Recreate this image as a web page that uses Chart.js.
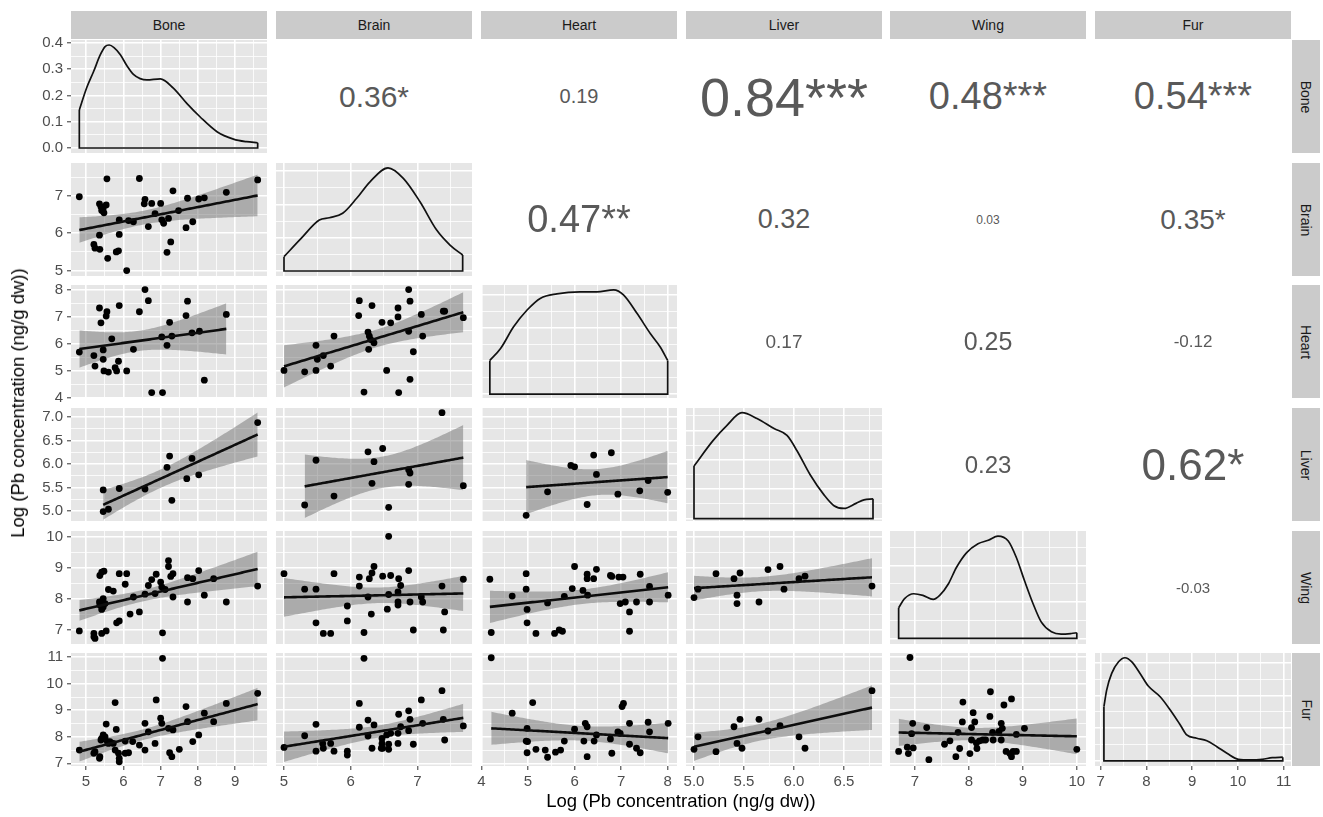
<!DOCTYPE html>
<html>
<head>
<meta charset="utf-8">
<script src="https://cdn.jsdelivr.net/npm/chart.js@4.4.1/dist/chart.umd.min.js"></script>
<style>
  body { margin: 0; background: #fff; width: 1323px; height: 817px; position: relative; overflow: hidden;
         font-family: "Liberation Sans", Arial, sans-serif; }
  canvas { position: absolute; }
  .strip { position: absolute; background: #cbcbcb; color: #1a1a1a; font-size: 14px;
           display: flex; align-items: center; justify-content: center; }
  .strip.side span { transform: rotate(90deg); white-space: nowrap; }
  .corr { position: absolute; display: flex; align-items: center; justify-content: center;
          color: #595959; white-space: nowrap; }
  .title { position: absolute; font-size: 18.5px; color: #000; white-space: nowrap; }
</style>
</head>
<body>
<script>
// tissues in panel order
const tissues = ['Bone', 'Brain', 'Heart', 'Liver', 'Wing', 'Fur'];

// tick labels per variable
const boneTicks = ['5', '6', '7', '8', '9'];
const brainTicks = ['5', '6', '7'];
const heartTicks = ['4', '5', '6', '7', '8'];
const liverTicks = ['5.0', '5.5', '6.0', '6.5', '7.0'];
const wingTicks = ['7', '8', '9', '10'];
const furTicks = ['7', '8', '9', '10', '11'];
const boneDensTicks = ['0.0', '0.1', '0.2', '0.3', '0.4'];
const brainDensTicks = ['0.0', '0.2', '0.4', '0.6'];
const heartDensTicks = ['0.0', '0.1', '0.2', '0.3'];
const liverDensTicks = ['0.00', '0.25', '0.50', '0.75'];
const wingDensTicks = ['0.0', '0.2', '0.4'];
const furDensTicks = ['0.0', '0.2', '0.4', '0.6'];

// axis limits
const xLimits = [[4.597, 9.85], [4.88, 7.82], [3.99, 8.2], [4.92, 6.88], [6.54, 10.17], [6.875, 11.16]];
const yLimits = [null, [4.855, 7.885], [3.99, 8.17], [4.79, 7.19], [6.55, 10.18], [6.9, 11.16]];
const densLimits = [[-0.019, 0.411], [-0.03, 0.649], [-0.012, 0.331], [-0.02, 0.94], [-0.031, 0.592], [-0.031, 0.661]];

// scatter panels: [x, y]
const brainVsBone = [[4.82,6.98],[5.56,7.46],[6.43,7.47],[5.36,6.79],[5.40,6.71],[5.46,6.67],[5.54,6.76],[5.42,6.61],[5.48,6.55],[5.89,6.36],[6.14,6.34],[6.27,6.31],[6.58,6.91],[6.56,6.79],[6.76,6.80],[7.00,6.80],[6.85,6.53],[6.67,6.18],[7.03,6.36],[7.08,6.27],[7.21,6.40],[7.33,7.14],[7.27,5.77],[7.17,5.49],[7.48,6.61],[7.72,6.94],[7.68,6.15],[7.86,6.31],[8.02,6.92],[8.17,6.95],[8.76,7.10],[9.60,7.43],[5.36,5.95],[5.21,5.70],[5.24,5.60],[5.37,5.57],[5.58,5.33],[5.81,5.50],[5.87,5.53],[5.89,5.97],[6.09,5.00]];
const heartVsBone = [[4.82,5.69],[5.21,5.56],[5.24,5.17],[5.36,7.32],[5.40,6.77],[5.46,5.42],[5.48,4.99],[5.54,7.02],[5.56,7.18],[5.60,4.95],[5.69,6.18],[5.87,5.35],[5.89,7.41],[5.78,5.11],[5.82,4.99],[6.09,4.99],[6.27,5.79],[6.43,7.18],[6.58,8.00],[6.67,7.59],[6.76,4.19],[7.05,4.19],[7.03,6.25],[7.17,5.94],[7.24,6.79],[7.30,6.28],[7.68,7.04],[7.72,7.57],[7.84,6.40],[8.04,6.46],[8.17,4.65],[8.76,7.08],[5.46,5.77]];
const liverVsBone = [[5.46,5.45],[5.46,4.99],[5.60,5.04],[5.89,5.48],[6.58,5.47],[7.17,5.93],[7.24,6.17],[7.30,5.23],[7.70,5.69],[7.84,6.12],[8.02,5.77],[9.60,6.88]];
const wingVsBone = [[4.82,6.97],[5.21,6.89],[5.24,6.73],[5.21,6.78],[5.42,6.89],[5.54,6.97],[5.37,8.75],[5.42,8.86],[5.48,8.89],[5.36,7.90],[5.37,7.80],[5.42,7.66],[5.46,8.01],[5.46,7.74],[5.51,7.85],[5.60,8.30],[5.73,8.25],[5.82,7.23],[5.89,7.29],[5.89,8.81],[6.05,8.47],[6.09,8.81],[6.18,7.51],[6.27,8.06],[6.43,7.58],[6.58,8.15],[6.67,8.43],[6.76,8.62],[6.85,8.17],[6.88,8.79],[7.00,8.54],[7.03,8.38],[7.05,6.91],[7.12,8.30],[7.21,9.23],[7.21,9.04],[7.27,8.72],[7.33,8.81],[7.33,8.06],[7.72,8.68],[7.72,7.90],[7.86,8.65],[8.02,8.91],[8.17,8.12],[8.42,8.65],[8.76,7.90],[9.60,8.41]];
const furVsBone = [[4.82,7.50],[5.21,7.38],[5.24,7.44],[5.36,7.19],[5.37,7.25],[5.40,7.88],[5.42,7.94],[5.46,8.07],[5.51,8.00],[5.54,8.48],[5.57,7.82],[5.60,7.75],[5.64,7.82],[5.73,7.75],[5.78,9.29],[5.81,8.28],[5.78,7.50],[5.87,7.38],[5.89,7.19],[5.89,7.06],[6.05,7.84],[6.05,7.38],[6.14,7.40],[6.25,7.82],[6.43,7.69],[6.58,8.51],[6.58,7.50],[6.67,8.19],[6.85,7.75],[6.88,9.39],[7.00,8.70],[7.03,8.51],[7.05,10.96],[7.21,8.32],[7.24,7.40],[7.30,7.25],[7.33,8.26],[7.50,7.53],[7.68,9.14],[7.72,8.57],[7.86,7.82],[8.02,8.07],[8.17,8.89],[8.42,8.57],[8.76,9.26],[9.60,9.64]];
const heartVsBrain = [[5.00,5.01],[5.31,4.96],[5.48,5.01],[5.48,5.94],[5.50,5.42],[5.59,5.56],[5.70,5.17],[5.75,6.28],[6.13,7.59],[6.32,7.41],[6.12,7.04],[6.20,4.21],[6.26,6.43],[6.28,6.28],[6.30,6.15],[6.35,6.03],[6.27,5.79],[6.47,6.79],[6.54,5.01],[6.60,6.77],[6.71,7.32],[6.71,6.99],[6.72,4.19],[6.87,8.00],[6.89,7.57],[6.87,6.46],[6.89,4.68],[6.94,5.70],[7.06,7.08],[7.08,6.28],[7.39,7.20],[7.41,7.20],[7.69,6.96]];
const liverVsBrain = [[7.37,7.09],[5.31,5.13],[5.48,6.08],[5.75,5.32],[6.26,6.26],[6.35,6.05],[6.32,5.59],[6.48,6.33],[6.57,5.08],[6.87,5.57],[6.89,5.81],[6.87,5.88],[7.69,5.54]];
const wingVsBrain = [[5.00,8.81],[5.31,8.31],[5.48,8.31],[5.75,8.81],[5.48,7.23],[5.59,6.89],[5.70,6.89],[5.95,7.77],[5.95,7.29],[6.13,8.70],[6.13,8.41],[6.20,6.92],[6.26,8.06],[6.28,8.65],[6.32,8.83],[6.35,9.04],[6.31,7.51],[6.48,8.73],[6.55,7.67],[6.57,8.14],[6.60,8.75],[6.71,8.22],[6.72,8.65],[6.75,8.43],[6.71,7.90],[6.71,7.80],[6.87,8.91],[6.89,7.90],[6.94,7.00],[7.06,8.06],[7.08,7.90],[7.37,8.41],[7.41,7.58],[7.39,7.00],[7.69,8.63],[6.57,10.01]];
const furVsBrain = [[6.20,10.96],[5.00,7.60],[5.31,8.04],[5.48,8.47],[5.48,7.46],[5.59,7.57],[5.58,7.75],[5.70,7.75],[5.75,7.46],[5.95,7.46],[5.95,7.31],[6.13,9.26],[6.13,8.36],[6.26,8.63],[6.35,8.45],[6.26,8.03],[6.32,7.57],[6.47,7.94],[6.48,7.57],[6.54,8.07],[6.57,7.72],[6.57,7.53],[6.60,8.13],[6.71,7.75],[6.72,8.85],[6.75,8.38],[6.87,8.23],[6.87,8.98],[6.89,8.66],[6.94,7.72],[7.06,9.39],[7.08,8.51],[7.37,9.74],[7.39,8.66],[7.41,7.88],[7.69,8.41],[6.46,7.57],[6.47,7.75],[6.71,8.13]];
const liverVsHeart = [[4.96,4.91],[5.42,5.41],[5.92,5.97],[6.00,5.94],[6.27,5.14],[6.41,6.19],[6.47,5.78],[6.79,6.24],[6.93,5.36],[7.40,5.43],[7.58,5.65],[8.00,5.40]];
const wingVsHeart = [[4.18,8.63],[4.21,6.92],[4.66,8.09],[4.96,8.81],[4.96,8.31],[4.98,7.66],[4.98,7.23],[5.17,6.89],[5.42,7.87],[5.57,6.89],[5.67,7.00],[5.74,6.96],[5.78,8.08],[5.95,8.33],[6.00,9.04],[6.18,8.27],[6.27,8.79],[6.27,8.65],[6.28,8.12],[6.41,8.65],[6.47,8.95],[6.77,8.75],[6.80,8.72],[6.95,8.70],[6.98,7.85],[7.04,8.70],[7.09,7.90],[7.18,7.58],[7.18,6.96],[7.33,7.90],[7.41,8.79],[7.61,7.90],[7.61,8.40],[8.01,8.12]];
const furVsHeart = [[4.21,10.98],[4.66,8.89],[5.10,9.29],[4.98,8.32],[4.96,7.84],[4.99,7.82],[4.98,7.40],[5.17,7.53],[5.37,7.50],[5.42,7.23],[5.59,7.42],[5.70,7.50],[5.78,7.84],[6.00,8.29],[6.20,7.84],[6.23,8.51],[6.27,8.38],[6.27,7.25],[6.42,7.84],[6.47,8.07],[6.77,7.92],[6.80,7.38],[6.93,8.19],[6.98,8.13],[7.02,9.14],[7.05,9.26],[7.18,8.51],[7.18,7.72],[7.33,7.57],[7.41,7.40],[7.58,8.55],[7.61,8.19],[8.01,8.51]];
const wingVsLiver = [[5.00,8.04],[5.04,8.31],[5.22,8.81],[5.40,8.65],[5.43,8.12],[5.43,7.85],[5.46,8.83],[5.65,7.90],[5.74,8.94],[5.86,9.04],[5.90,8.31],[6.05,8.65],[6.11,8.73],[6.78,8.41]];
const furVsLiver = [[5.00,7.53],[5.04,8.00],[5.22,7.44],[5.40,8.38],[5.43,7.75],[5.46,8.66],[5.48,7.57],[5.65,8.66],[5.74,8.22],[5.86,8.42],[6.05,8.00],[6.11,7.57],[6.78,9.74]];
const furVsWing = [[6.91,10.99],[6.96,8.51],[6.94,8.12],[7.22,8.35],[6.70,7.45],[6.86,7.61],[6.88,7.37],[6.97,7.58],[7.26,7.14],[7.55,7.72],[7.65,7.85],[7.80,8.17],[7.88,8.56],[7.89,9.31],[7.83,7.56],[7.76,7.25],[8.02,7.37],[8.05,8.35],[8.08,8.91],[8.11,8.56],[8.14,7.77],[8.15,7.56],[8.05,7.88],[8.20,7.85],[8.26,7.88],[8.31,7.88],[8.39,8.77],[8.40,9.70],[8.45,7.88],[8.44,8.17],[8.56,8.20],[8.60,8.51],[8.60,7.88],[8.62,8.32],[8.65,9.20],[8.69,7.45],[8.76,7.37],[8.79,9.43],[8.79,7.25],[8.82,7.45],[8.88,7.45],[8.88,8.09],[9.03,8.32],[10.00,7.53]];

// density curves on the diagonal
const boneDensX = [4.82,5.02,5.2,5.38,5.51,5.62,5.75,5.92,6.1,6.27,6.45,6.63,6.99,7.34,7.7,8.06,8.51,8.95,9.3,9.6];
const boneDensY = [0.145,0.23,0.29,0.354,0.386,0.392,0.382,0.355,0.312,0.28,0.264,0.259,0.263,0.228,0.17,0.118,0.062,0.034,0.024,0.02];
const brainDensX = [5.0,5.25,5.53,5.68,5.88,6.09,6.29,6.56,6.79,7.04,7.29,7.49,7.68];
const brainDensY = [0.086,0.193,0.306,0.32,0.347,0.437,0.536,0.62,0.557,0.416,0.246,0.156,0.096];
const heartDensX = [4.18,4.41,4.69,4.98,5.27,5.62,6.12,6.48,6.84,7.05,7.34,7.63,7.84,8.0];
const heartDensY = [0.102,0.138,0.204,0.255,0.291,0.304,0.31,0.31,0.316,0.301,0.245,0.183,0.143,0.102];
const liverDensX = [5.0,5.19,5.33,5.48,5.63,5.8,5.93,6.03,6.16,6.3,6.4,6.5,6.62,6.7,6.79];
const liverDensY = [0.447,0.663,0.793,0.9,0.851,0.765,0.707,0.577,0.375,0.202,0.11,0.087,0.13,0.159,0.168];
const wingDensX = [6.7,6.81,6.98,7.15,7.34,7.46,7.62,7.77,7.96,8.17,8.36,8.54,8.73,8.88,9.03,9.19,9.34,9.53,9.71,9.9,10.0];
const wingDensY = [0.169,0.219,0.246,0.237,0.215,0.237,0.3,0.391,0.473,0.522,0.541,0.564,0.537,0.446,0.319,0.191,0.091,0.036,0.023,0.027,0.031];
const furDensX = [7.07,7.13,7.24,7.39,7.53,7.68,7.86,8.04,8.3,8.52,8.74,8.88,9.1,9.32,9.54,9.76,10.01,10.27,10.53,10.75,10.98];
const furDensY = [0.332,0.434,0.536,0.607,0.632,0.607,0.536,0.459,0.393,0.312,0.22,0.159,0.139,0.124,0.087,0.047,0.01,0.006,0.01,0.02,0.023];

// correlations, upper triangle row by row
const corrText = ['0.36*', '0.19', '0.84***', '0.48***', '0.54***', '0.47**', '0.32', '0.03', '0.35*', '0.17', '0.25', '-0.12', '0.23', '0.62*', '-0.03'];
const corrFont = [30, 20, 54, 38, 38, 38, 27, 12, 28, 19, 25, 17, 24, 44, 15];

const FONT = '"Liberation Sans", Arial, sans-serif';
const colLeft = [71, 276, 481, 686, 890, 1095];
const rowTop = [40, 163, 285, 408, 531, 653];
const W = 196, H = 113, M = 8, YW = 46, XH = 24;
const BAND = 'rgba(100,100,100,0.45)';

const varTicks = [boneTicks, brainTicks, heartTicks, liverTicks, wingTicks, furTicks];
const densTicks = [boneDensTicks, brainDensTicks, heartDensTicks, liverDensTicks, wingDensTicks, furDensTicks];
const densX = [boneDensX, brainDensX, heartDensX, liverDensX, wingDensX, furDensX];
const densY = [boneDensY, brainDensY, heartDensY, liverDensY, wingDensY, furDensY];
const scatter = {
  '1,0': brainVsBone, '2,0': heartVsBone, '3,0': liverVsBone, '4,0': wingVsBone, '5,0': furVsBone,
  '2,1': heartVsBrain, '3,1': liverVsBrain, '4,1': wingVsBrain, '5,1': furVsBrain,
  '3,2': liverVsHeart, '4,2': wingVsHeart, '5,2': furVsHeart,
  '4,3': wingVsLiver, '5,3': furVsLiver, '5,4': furVsWing
};

function isMajor(v, labels) {
  return labels.some(l => Math.abs(Number(l) - v) < 1e-6);
}

function tickList(labels, lo, hi) {
  const maj = labels.map(Number);
  const half = (maj[1] - maj[0]) / 2;
  const out = [];
  for (let v = maj[0] - half; v <= maj[maj.length - 1] + half + 1e-9; v += half) {
    if (v >= lo - 1e-9 && v <= hi + 1e-9) out.push({ value: +v.toFixed(4) });
  }
  return out;
}

// lm fit with 95% band, like geom_smooth(method = "lm")
function tQuant(df) {
  const z = 1.959964;
  return z + (z ** 3 + z) / (4 * df) + (5 * z ** 5 + 16 * z ** 3 + 3 * z) / (96 * df * df);
}

function lmBand(pts) {
  const n = pts.length;
  const mx = pts.reduce((s, p) => s + p[0], 0) / n;
  const my = pts.reduce((s, p) => s + p[1], 0) / n;
  let sxx = 0, sxy = 0;
  pts.forEach(p => { sxx += (p[0] - mx) ** 2; sxy += (p[0] - mx) * (p[1] - my); });
  const b = sxy / sxx, a = my - b * mx;
  let sse = 0;
  pts.forEach(p => { sse += (p[1] - a - b * p[0]) ** 2; });
  const s2 = sse / (n - 2), t = tQuant(n - 2);
  const xs = pts.map(p => p[0]);
  const lo = Math.min(...xs), hi = Math.max(...xs);
  const mid = [], up = [], dn = [];
  for (let i = 0; i < 80; i++) {
    const x = lo + (hi - lo) * i / 79;
    const yh = a + b * x;
    const se = Math.sqrt(s2 * (1 / n + (x - mx) ** 2 / sxx));
    mid.push({ x, y: yh });
    up.push({ x, y: yh + t * se });
    dn.push({ x, y: yh - t * se });
  }
  return { mid, up, dn };
}

const panelBg = {
  id: 'panelBg',
  beforeDraw(chart) {
    const a = chart.chartArea, ctx = chart.ctx;
    ctx.save();
    ctx.fillStyle = '#e6e6e6';
    ctx.fillRect(a.left, a.top, a.right - a.left, a.bottom - a.top);
    ctx.restore();
  }
};

function axisCfg(axis, range, labels, shown) {
  return {
    type: 'linear',
    position: axis === 'x' ? 'bottom' : 'left',
    min: range[0],
    max: range[1],
    afterBuildTicks: s => { s.ticks = tickList(labels, range[0], range[1]); },
    afterFit: s => {
      if (axis === 'x') { s.height = shown ? XH : 0; s.paddingLeft = 0; s.paddingRight = 0; }
      else { s.width = shown ? YW : 0; s.paddingTop = 0; s.paddingBottom = 0; }
    },
    border: { display: false },
    grid: {
      color: '#ffffff',
      lineWidth: c => (c.tick && isMajor(c.tick.value, labels)) ? 1.6 : 0.8,
      drawTicks: shown,
      tickLength: 4,
      tickWidth: 1,
      tickColor: c => (c.tick && isMajor(c.tick.value, labels)) ? '#333333' : 'rgba(0,0,0,0)'
    },
    ticks: {
      display: shown,
      autoSkip: false,
      maxRotation: 0,
      padding: axis === 'x' ? 3 : 4,
      color: '#4d4d4d',
      font: { family: FONT, size: 15 },
      callback: v => {
        const l = labels.find(s => Math.abs(Number(s) - v) < 1e-6);
        return l === undefined ? '' : l;
      }
    }
  };
}

function addPanel(r, c, datasets, yRange, yLabels) {
  const left = c === 0, bottom = r === 5;
  const w = W + 2 * M + (left ? YW : 0);
  const h = H + 2 * M + (bottom ? XH : 0);
  const cv = document.createElement('canvas');
  cv.width = w; cv.height = h;
  cv.style.left = (colLeft[c] - M - (left ? YW : 0)) + 'px';
  cv.style.top = (rowTop[r] - M) + 'px';
  cv.style.width = w + 'px'; cv.style.height = h + 'px';
  document.body.appendChild(cv);
  new Chart(cv, {
    type: 'line',
    data: { datasets },
    options: {
      responsive: false,
      animation: false,
      devicePixelRatio: 1,
      layout: { padding: M, autoPadding: false },
      plugins: { legend: { display: false }, tooltip: { enabled: false } },
      scales: {
        x: axisCfg('x', xLimits[c], varTicks[c], bottom),
        y: axisCfg('y', yRange, yLabels, left)
      }
    },
    plugins: [panelBg]
  });
}

function addDiv(cls, x, y, w, h, html, extra) {
  const d = document.createElement('div');
  d.className = cls;
  Object.assign(d.style, { left: x + 'px', top: y + 'px', width: w + 'px', height: h + 'px' }, extra || {});
  d.innerHTML = html;
  document.body.appendChild(d);
  return d;
}

// strips
tissues.forEach((t, i) => {
  addDiv('strip', colLeft[i], 11, W, 28, t);
  addDiv('strip side', 1292, rowTop[i], 28, H, '<span>' + t + '</span>');
});

// panels
let k = 0;
for (let r = 0; r < 6; r++) {
  for (let c = 0; c < 6; c++) {
    if (r === c) {
      const xs = densX[r], ys = densY[r], n = xs.length;
      addPanel(r, c, [
        { data: xs.map((x, i) => ({ x, y: ys[i] })), borderColor: '#111', borderWidth: 1.7,
          pointRadius: 0, cubicInterpolationMode: 'monotone', fill: false },
        { data: [{ x: xs[0], y: ys[0] }, { x: xs[0], y: 0 }, { x: xs[n - 1], y: 0 }, { x: xs[n - 1], y: ys[n - 1] }],
          borderColor: '#111', borderWidth: 1.7, pointRadius: 0, tension: 0, fill: false }
      ], densLimits[r], densTicks[r]);
    } else if (r > c) {
      const pts = scatter[r + ',' + c];
      const fit = lmBand(pts);
      addPanel(r, c, [
        { data: fit.mid, borderColor: '#0d0d0d', borderWidth: 2.6, pointRadius: 0, fill: false, tension: 0 },
        { data: pts.map(p => ({ x: p[0], y: p[1] })), showLine: false, pointRadius: 3.4,
          pointBackgroundColor: '#000', pointBorderWidth: 0 },
        { data: fit.up, borderWidth: 0, borderColor: 'rgba(0,0,0,0)', pointRadius: 0, fill: '+1', backgroundColor: BAND },
        { data: fit.dn, borderWidth: 0, borderColor: 'rgba(0,0,0,0)', pointRadius: 0, fill: false }
      ], yLimits[r], varTicks[r]);
    } else {
      addDiv('corr', colLeft[c], rowTop[r], W, H, corrText[k], { fontSize: corrFont[k] + 'px' });
      k++;
    }
  }
}

// axis titles
addDiv('title', 681, 801, 0, 0, '<span style="position:absolute;transform:translate(-50%,-50%)">Log (Pb concentration (ng/g dw))</span>');
addDiv('title', 18, 403, 0, 0, '<span style="position:absolute;transform:translate(-50%,-50%) rotate(-90deg)">Log (Pb concentration (ng/g dw))</span>');
</script>
</body>
</html>
